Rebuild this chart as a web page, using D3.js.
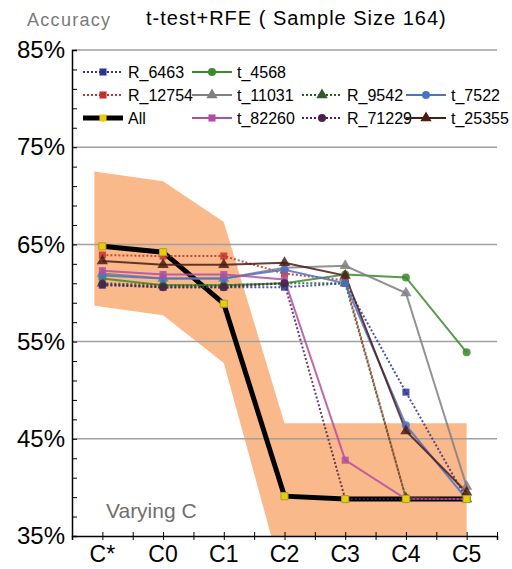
<html>
<head>
<script type="text/javascript" src="https://cdn.jsdelivr.net/npm/d3@7"></script>
<style>
  body { margin: 0; background: #fff; }
  text { font-family: "Liberation Sans", Arial, sans-serif; }
</style>
</head>
<body>
<div id="chart"></div>
<script type="text/javascript">

// categories along the x axis
var categories = ["C*", "C0", "C1", "C2", "C3", "C4", "C5"];
var yTicks = [35, 45, 55, 65, 75, 85];

// accuracy (%) per series, one value per category
var allValues   = [64.8, 64.2, 58.9, 39.1, 38.8, 38.8, 38.8];
var r6463       = [60.8, 60.6, 60.6, 60.6, 61.0, 49.8, 38.8];
var t4568       = [61.5, 60.8, 60.8, 61.0, 61.9, 61.6, 53.9];
var r12754      = [63.9, 63.8, 63.8, 62.0, 61.3, 38.9, 38.8];
var t11031      = [62.0, 61.5, 61.5, 62.6, 62.8, 60.0, 40.1];
var r9542       = [61.0, 60.8, 60.8, 61.0, 61.0, 38.9, 38.8];
var t7522       = [61.8, 61.5, 61.5, 62.4, 61.0, 46.4, 38.8];
var t82260      = [62.3, 61.9, 61.9, 61.4, 42.8, 38.8, 38.8];
var r71229      = [60.9, 60.6, 60.6, 61.0, 38.8, 38.8, 38.8];
var t25355      = [63.3, 62.9, 62.9, 63.1, 61.8, 45.8, 39.5];

// shaded spread band
var bandUpper = [72.5, 71.5, 67.3, 46.6, 46.6, 46.6, 46.6];
var bandLower = [58.7, 57.7, 52.8, 30.0, 30.0, 30.0, 30.0];

// series: name, values, colour, dotted?, marker
var series = [
  { name: "R_6463",  values: r6463,  color: "#2c3590", dotted: true,  shape: d3.symbolSquare },
  { name: "t_4568",  values: t4568,  color: "#3b8a2b", dotted: false, shape: d3.symbolCircle },
  { name: "R_12754", values: r12754, color: "#c4312a", dotted: true,  shape: d3.symbolSquare },
  { name: "t_11031", values: t11031, color: "#7f7f7f", dotted: false, shape: d3.symbolTriangle },
  { name: "R_9542",  values: r9542,  color: "#2f5a24", dotted: true,  shape: d3.symbolTriangle },
  { name: "t_7522",  values: t7522,  color: "#4a73c8", dotted: false, shape: d3.symbolCircle },
  { name: "All",     values: allValues, color: "#000000", dotted: false, shape: d3.symbolSquare },
  { name: "t_82260", values: t82260, color: "#b24ea2", dotted: false, shape: d3.symbolSquare },
  { name: "R_71229", values: r71229, color: "#4b1f50", dotted: true,  shape: d3.symbolCircle },
  { name: "t_25355", values: t25355, color: "#4b1c14", dotted: false, shape: d3.symbolTriangle }
];
// legend rows (by series name)
var legendRows = [
  ["R_6463", "t_4568"],
  ["R_12754", "t_11031", "R_9542", "t_7522"],
  ["All", "t_82260", "R_71229", "t_25355"]
];

var width = 512, height = 569;
var plotLeft = 72, plotRight = 497, plotTop = 50, plotBottom = 536;

var svg = d3.select("#chart").append("svg")
  .attr("width", width)
  .attr("height", height);

var x = d3.scaleBand().domain(categories).range([plotLeft, plotRight]);
var xc = function(c) { return x(c) + x.bandwidth() / 2; };
var y = d3.scaleLinear().domain([35, 85]).range([plotBottom, plotTop]);

svg.append("clipPath").attr("id", "plotClip")
  .append("rect").attr("x", plotLeft).attr("y", plotTop)
  .attr("width", plotRight - plotLeft).attr("height", plotBottom - plotTop);

// band
var band = categories.map(function(c, i) { return { c: c, hi: bandUpper[i], lo: bandLower[i], i: i }; });
var area = d3.area()
  .x(function(d) { return d.i === 0 ? xc(d.c) - 8 : xc(d.c); })
  .y0(function(d) { return y(d.lo); })
  .y1(function(d) { return y(d.hi); });
svg.append("path")
  .datum(band)
  .attr("clip-path", "url(#plotClip)")
  .attr("d", area)
  .attr("fill", "#fab98b");

// gridlines
svg.selectAll(".grid")
  .data(yTicks.filter(function(t) { return t > 35; }))
  .enter().append("line")
  .attr("x1", plotLeft).attr("x2", plotRight)
  .attr("y1", function(d) { return y(d); })
  .attr("y2", function(d) { return y(d); })
  .attr("stroke", "#a0a0a0")
  .attr("stroke-width", 1.5);

// y axis: labels
var yAxis = d3.axisLeft(y).tickValues(yTicks).tickSize(0).tickPadding(7)
  .tickFormat(function(d) { return d + "%"; });
var yg = svg.append("g").attr("transform", "translate(" + plotLeft + ",0)").call(yAxis);
yg.select(".domain").remove();
yg.selectAll("text").attr("font-size", 24).attr("fill", "#000")
  .style("font-family", "'Liberation Sans', Arial, sans-serif");

// y axis: minor ticks inside
var yMinor = d3.axisRight(y).tickValues(d3.range(35, 86, 2)).tickSize(5).tickFormat("");
var ym = svg.append("g").attr("transform", "translate(" + plotLeft + ",0)").call(yMinor);
ym.select(".domain").attr("stroke", "#000").attr("stroke-width", 1.5);

// x axis
var xt = d3.scaleLinear().domain([0, categories.length]).range([plotLeft, plotRight]);
var xAxis = d3.axisBottom(xt).tickValues(d3.range(0, categories.length + 0.01, 0.5)).tickSize(4).tickFormat("");
var xg = svg.append("g").attr("transform", "translate(0," + plotBottom + ")").call(xAxis);
xg.select(".domain").attr("stroke", "#000").attr("stroke-width", 1.5);
xg.selectAll(".tick line").attr("y1", -4).attr("y2", 4);

svg.selectAll(".xlab")
  .data(categories)
  .enter().append("text")
  .attr("x", function(d) { return xc(d); })
  .attr("y", 562)
  .attr("text-anchor", "middle")
  .attr("font-size", 23)
  .text(function(d) { return d; });

// lines
var line = d3.line()
  .x(function(d, i) { return xc(categories[i]); })
  .y(function(d) { return y(d); });

function drawSeries(s) {
  var isAll = s.name === "All";
  svg.append("path")
    .datum(s.values)
    .attr("d", line)
    .attr("fill", "none")
    .attr("stroke", s.color)
    .attr("stroke-width", isAll ? 5 : 2)
    .attr("stroke-dasharray", s.dotted ? "2,2" : null)
    .attr("opacity", isAll ? 1 : 0.85);
}
function drawMarkers(s) {
  var isAll = s.name === "All";
  var sym = d3.symbol().type(s.shape).size(s.shape === d3.symbolTriangle ? 55 : 50);
  svg.selectAll(null)
    .data(s.values)
    .enter().append("path")
    .attr("d", sym)
    .attr("transform", function(d, i) { return "translate(" + xc(categories[i]) + "," + y(d) + ")"; })
    .attr("fill", isAll ? "#e8cc10" : s.color)
    .attr("stroke", isAll ? "#b0a020" : "none")
    .attr("stroke-width", 1)
    .attr("opacity", isAll ? 1 : 0.85);
}

var allSeries = series.filter(function(s) { return s.name === "All"; })[0];
drawSeries(allSeries);
series.forEach(function(s) { if (s.name !== "All") drawSeries(s); });
series.forEach(function(s) { if (s.name !== "All") drawMarkers(s); });
drawMarkers(allSeries);

// legend
var colX = [83, 192, 302, 406];
var rowY = [72, 95, 118];
legendRows.forEach(function(row, r) {
  row.forEach(function(name, c) {
    var s = series.filter(function(d) { return d.name === name; })[0];
    var isAll = name === "All";
    var g = svg.append("g").attr("transform", "translate(" + colX[c] + "," + rowY[r] + ")");
    g.append("line")
      .attr("x1", 0).attr("x2", 40)
      .attr("stroke", s.color)
      .attr("stroke-width", isAll ? 5 : 2)
      .attr("stroke-dasharray", s.dotted ? "2,2" : null);
    g.append("path")
      .attr("d", d3.symbol().type(s.shape).size(s.shape === d3.symbolTriangle ? 55 : 50)())
      .attr("transform", "translate(20,0)")
      .attr("fill", isAll ? "#e8cc10" : s.color);
    g.append("text")
      .attr("x", 45).attr("y", 6)
      .attr("font-size", 16)
      .text(name);
  });
});

// titles
svg.append("text").attr("x", 27).attr("y", 26).attr("font-size", 18)
  .attr("letter-spacing", 1.3).attr("fill", "#7a7a7a").text("Accuracy");
svg.append("text").attr("x", 146).attr("y", 25).attr("font-size", 20)
  .attr("letter-spacing", 1).attr("fill", "#000").text("t-test+RFE ( Sample Size 164)");
svg.append("text").attr("x", 106).attr("y", 518).attr("font-size", 21).attr("fill", "#6f6f6f").text("Varying C");

</script>
</body>
</html>
